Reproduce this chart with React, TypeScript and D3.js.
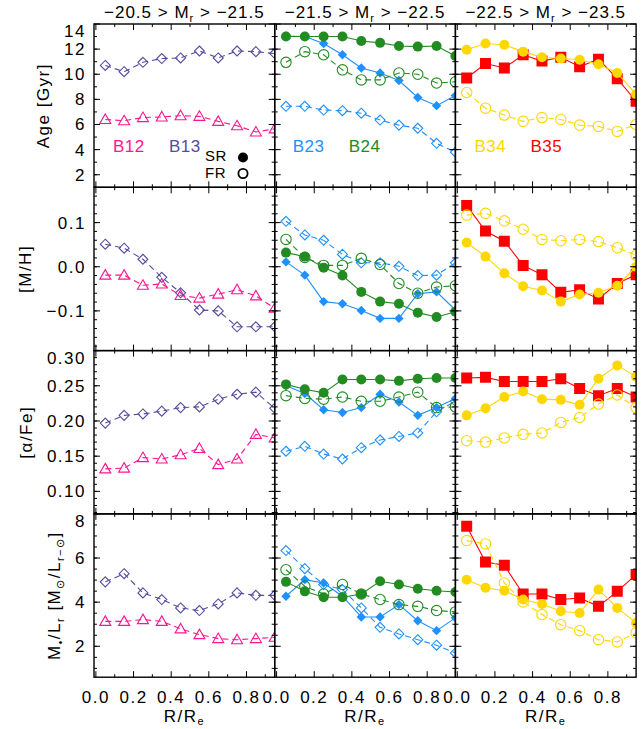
import React, { useEffect, useRef } from 'react';
import * as d3 from 'd3';

// radial bins (R/Re)
const radius = [0.05, 0.15, 0.25, 0.35, 0.45, 0.55, 0.65, 0.75, 0.85, 0.95];

// magnitude bins for the three columns
const magBins = [['−20.5', '−21.5'], ['−21.5', '−22.5'], ['−22.5', '−23.5']];

// Age [Gyr]
const ageB12 = [6.4, 6.3, 6.55, 6.6, 6.7, 6.65, 6.25, 5.9, 5.4, 5.65];
const ageB13 = [10.7, 10.2, 10.95, 11.25, 11.3, 11.85, 11.3, 11.85, 11.8, 11.65];
const ageB23SR = [13.05, 13.0, 12.45, 11.55, 10.5, 10.1, 9.5, 8.15, 7.5, 8.3];
const ageB23FR = [7.45, 7.45, 7.15, 7.1, 6.9, 6.35, 5.95, 5.7, 4.5, 3.8];
const ageB24SR = [13.0, 13.0, 13.0, 13.0, 12.65, 12.5, 12.25, 12.2, 12.25, 11.45];
const ageB24FR = [10.95, 11.8, 11.55, 10.35, 9.55, 9.55, 10.1, 10.0, 9.3, 9.4];
const ageB34SR = [11.95, 12.45, 12.35, 11.8, 11.35, 11.25, 11.15, 10.8, 10.1, 8.4];
const ageB34FR = [8.55, 7.3, 6.75, 6.25, 6.55, 6.4, 5.95, 5.85, 5.45, 6.0];
const ageB35 = [9.7, 10.85, 10.5, 11.55, 11.05, 11.35, 10.6, 11.2, 9.65, 7.85];

// [M/H]
const mhB12 = [-0.019, -0.019, -0.042, -0.039, -0.065, -0.071, -0.062, -0.052, -0.066, -0.094];
const mhB13 = [0.051, 0.042, 0.017, -0.024, -0.059, -0.098, -0.1, -0.136, -0.136, -0.136];
const mhB23SR = [0.011, -0.019, -0.079, -0.084, -0.099, -0.117, -0.117, -0.061, -0.057, -0.098];
const mhB23FR = [0.103, 0.072, 0.06, 0.028, 0.009, 0.009, 0.001, -0.02, -0.019, 0.009];
const mhB24SR = [0.032, 0.023, -0.002, -0.02, -0.057, -0.079, -0.084, -0.104, -0.114, -0.102];
const mhB24FR = [0.062, 0.021, 0.003, 0.003, 0.019, 0.005, -0.038, -0.06, -0.046, -0.043];
const mhB34SR = [0.055, 0.023, -0.015, -0.044, -0.054, -0.079, -0.063, -0.059, -0.043, 0.0];
const mhB34FR = [0.117, 0.121, 0.104, 0.085, 0.062, 0.059, 0.062, 0.057, 0.043, 0.026];
const mhB35 = [0.139, 0.081, 0.058, 0.003, -0.018, -0.058, -0.052, -0.073, -0.038, -0.018];

// [alpha/Fe]
const afeB12 = [0.132, 0.133, 0.148, 0.146, 0.152, 0.161, 0.138, 0.146, 0.181, 0.176];
const afeB13 = [0.197, 0.208, 0.21, 0.214, 0.219, 0.22, 0.231, 0.238, 0.241, 0.218];
const afeB23SR = [0.25, 0.239, 0.216, 0.212, 0.219, 0.238, 0.227, 0.208, 0.219, 0.232];
const afeB23FR = [0.157, 0.164, 0.153, 0.146, 0.162, 0.173, 0.178, 0.183, 0.213, 0.228];
const afeB24SR = [0.252, 0.245, 0.24, 0.259, 0.259, 0.259, 0.257, 0.26, 0.261, 0.261];
const afeB24FR = [0.236, 0.232, 0.231, 0.234, 0.228, 0.228, 0.234, 0.241, 0.219, 0.22];
const afeB34SR = [0.208, 0.218, 0.234, 0.242, 0.231, 0.23, 0.223, 0.26, 0.279, 0.263];
const afeB34FR = [0.172, 0.17, 0.176, 0.181, 0.183, 0.198, 0.205, 0.224, 0.237, 0.219];
const afeB35 = [0.261, 0.262, 0.256, 0.256, 0.256, 0.26, 0.246, 0.236, 0.246, 0.234];

// M*/Lr
const mlB12 = [3.13, 3.13, 3.21, 3.13, 2.79, 2.53, 2.35, 2.3, 2.35, 2.41];
const mlB13 = [4.92, 5.29, 4.42, 4.12, 3.74, 3.62, 3.92, 4.42, 4.31, 4.31];
const mlB23SR = [4.27, 5.02, 4.87, 4.27, 3.33, 3.33, 3.89, 3.16, 2.71, 3.29];
const mlB23FR = [6.34, 5.52, 4.8, 4.57, 3.74, 2.86, 2.56, 2.3, 2.05, 1.7];
const mlB24SR = [4.92, 4.49, 4.22, 4.22, 4.37, 4.95, 4.8, 4.61, 4.52, 4.46];
const mlB24FR = [5.47, 4.72, 4.37, 4.8, 4.37, 4.12, 3.89, 3.81, 3.62, 3.56];
const mlB34SR = [5.02, 4.65, 4.52, 4.12, 3.92, 3.59, 3.51, 4.57, 3.74, 3.06];
const mlB34FR = [6.79, 6.64, 4.87, 4.01, 3.44, 2.98, 2.71, 2.3, 2.2, 2.61];
const mlB35 = [7.44, 5.82, 5.67, 4.37, 4.37, 4.12, 4.19, 3.81, 4.49, 5.25];

// tick labels
const xTicks = [0, 0.2, 0.4, 0.6, 0.8];
const ageTicks = [2, 4, 6, 8, 10, 12, 14];
const mhTicks = [-0.1, 0, 0.1];
const afeTicks = [0.1, 0.15, 0.2, 0.25, 0.3];
const mlTicks = [2, 4, 6, 8];

const rows = [
  { domain: [1, 14], ticks: ageTicks, minor: [1, 14, 1], fmt: 'd' },
  { domain: [-0.19, 0.18], ticks: mhTicks, minor: [-0.18, 0.19, 0.02], fmt: '.1f' },
  { domain: [0.068, 0.3], ticks: afeTicks, minor: [0.07, 0.305, 0.01], fmt: '.2f' },
  { domain: [0.6, 8], ticks: mlTicks, minor: [1, 8.01, 0.5], fmt: 'd' },
];

const series = [
  { name: 'B12', col: 0, type: 'FR', color: '#ff1493', marker: 'triangle', values: [ageB12, mhB12, afeB12, mlB12] },
  { name: 'B13', col: 0, type: 'FR', color: '#554c9f', marker: 'diamond', values: [ageB13, mhB13, afeB13, mlB13] },
  { name: 'B23', col: 1, type: 'SR', color: '#1e90ff', marker: 'diamond', values: [ageB23SR, mhB23SR, afeB23SR, mlB23SR] },
  { name: 'B23', col: 1, type: 'FR', color: '#1e90ff', marker: 'diamond', values: [ageB23FR, mhB23FR, afeB23FR, mlB23FR] },
  { name: 'B24', col: 1, type: 'SR', color: '#228b22', marker: 'circle', values: [ageB24SR, mhB24SR, afeB24SR, mlB24SR] },
  { name: 'B24', col: 1, type: 'FR', color: '#228b22', marker: 'circle', values: [ageB24FR, mhB24FR, afeB24FR, mlB24FR] },
  { name: 'B35', col: 2, type: 'SR', color: '#ff0000', marker: 'square', values: [ageB35, mhB35, afeB35, mlB35] },
  { name: 'B34', col: 2, type: 'SR', color: '#ffd700', marker: 'circle', values: [ageB34SR, mhB34SR, afeB34SR, mlB34SR] },
  { name: 'B34', col: 2, type: 'FR', color: '#ffd700', marker: 'circle', values: [ageB34FR, mhB34FR, afeB34FR, mlB34FR] },
];

const legendNames = [['B12', 'B13'], ['B23', 'B24'], ['B34', 'B35']];

const FONT = '"Liberation Sans", Arial, Helvetica, sans-serif';

const shapePath = (marker: string, filled: boolean) => {
  if (marker === 'diamond') {
    const s = filled ? 4.7 : 5;
    return `M0,${-s}L${s},0L0,${s}L${-s},0Z`;
  }
  if (marker === 'triangle') return 'M0,-5.5L5.5,4L-5.5,4Z';
  if (marker === 'square') return 'M-5.5,-5.5H5.5V5.5H-5.5Z';
  return '';
};

const App = () => {
  const ref = useRef<SVGSVGElement>(null);

  useEffect(() => {
    if (!ref.current) return;
    const svg = d3.select(ref.current);
    svg.selectAll('*').remove();

    const left = 94;
    const top = 24;
    const pw = 180.7;
    const ph = 163.3;

    const x = d3.scaleLinear().domain([-0.01, 0.95]).range([0, pw]);
    const defs = svg.append('defs');
    defs.append('clipPath').attr('id', 'panel-clip')
      .append('rect').attr('width', pw).attr('height', ph);

    const textStyle = (sel: any, size = 17, ls = 1.5) =>
      sel.attr('font-family', FONT).attr('font-size', size).attr('letter-spacing', ls).attr('fill', '#000');

    rows.forEach((row, r) => {
      const y = d3.scaleLinear().domain(row.domain).range([ph, 0]);
      const fmt = d3.format(row.fmt);
      const minors = d3.range(row.minor[0], row.minor[1], row.minor[2]);
      const xMinors = d3.range(0.1, 0.95, 0.2);

      for (let c = 0; c < 3; c++) {
        const g = svg.append('g')
          .attr('transform', `translate(${left + c * pw},${top + r * ph})`);
        const plot = g.append('g').attr('clip-path', 'url(#panel-clip)');

        series.filter(s => s.col === c).forEach(s => {
          const vals = s.values[r];
          const pts: [number, number][] = radius.map((d, i) => [x(d), y(vals[i])]);
          const filled = s.type === 'SR';
          plot.append('path')
            .attr('d', d3.line()(pts))
            .attr('fill', 'none')
            .attr('stroke', s.color)
            .attr('stroke-width', 1.1)
            .attr('stroke-dasharray', filled ? null : '6,4');
          if (s.marker === 'circle') {
            plot.selectAll(null).data(pts).enter().append('circle')
              .attr('cx', d => d[0]).attr('cy', d => d[1])
              .attr('r', filled ? 5 : 5.2)
              .attr('fill', filled ? s.color : 'none')
              .attr('stroke', filled ? 'none' : s.color)
              .attr('stroke-width', 1.1);
          } else {
            plot.selectAll(null).data(pts).enter().append('path')
              .attr('d', shapePath(s.marker, filled))
              .attr('transform', d => `translate(${d[0]},${d[1]})`)
              .attr('fill', filled ? s.color : 'none')
              .attr('stroke', filled ? 'none' : s.color)
              .attr('stroke-width', 1.1);
          }
        });

        // ticks on all four sides, pointing inward
        const tk = g.append('g').attr('stroke', '#000').attr('stroke-width', 1);
        const yTick = (v: number, len: number) => {
          tk.append('line').attr('x1', 0).attr('x2', len).attr('y1', y(v)).attr('y2', y(v));
          tk.append('line').attr('x1', pw).attr('x2', pw - len).attr('y1', y(v)).attr('y2', y(v));
        };
        const xTick = (v: number, len: number) => {
          tk.append('line').attr('y1', 0).attr('y2', len).attr('x1', x(v)).attr('x2', x(v));
          tk.append('line').attr('y1', ph).attr('y2', ph - len).attr('x1', x(v)).attr('x2', x(v));
        };
        minors.forEach(v => yTick(v, 3));
        row.ticks.forEach(v => yTick(v, 6));
        xMinors.forEach(v => xTick(v, 3));
        xTicks.forEach(v => xTick(v, 6));

        g.append('rect').attr('width', pw).attr('height', ph)
          .attr('fill', 'none').attr('stroke', '#000').attr('stroke-width', 1.4);

        if (r === 3) {
          xTicks.forEach(v => {
            textStyle(g.append('text'))
              .attr('x', x(v)).attr('y', ph + 26)
              .attr('text-anchor', 'middle')
              .text(d3.format('.1f')(v));
          });
          const xt = textStyle(g.append('text'))
            .attr('x', pw / 2).attr('y', ph + 45).attr('text-anchor', 'middle');
          xt.append('tspan').text('R/R');
          xt.append('tspan').attr('font-size', 11).attr('dy', 3).text('e');
        }

        if (r === 0) {
          // column title
          const tt = textStyle(svg.append('text'), 17, 1)
            .attr('x', left + c * pw + pw / 2).attr('y', 18).attr('text-anchor', 'middle');
          tt.append('tspan').text(`${magBins[c][0]} > M`);
          tt.append('tspan').attr('font-size', 11).attr('dy', 4).text('r');
          tt.append('tspan').attr('dy', -4).text(` > ${magBins[c][1]}`);

          // legend names
          legendNames[c].forEach((name, k) => {
            const s = series.find(d => d.name === name);
            textStyle(g.append('text'), 17, 0.5)
              .attr('x', c === 1 ? 18 + k * 56 : 19 + k * 56).attr('y', 128)
              .attr('fill', s ? s.color : '#000')
              .text(name);
          });
          if (c === 0) {
            textStyle(g.append('text'), 15, 0.5).attr('x', 111).attr('y', 137).text('SR');
            textStyle(g.append('text'), 15, 0.5).attr('x', 111).attr('y', 154).text('FR');
            g.append('circle').attr('cx', 149).attr('cy', 133.5).attr('r', 5).attr('fill', '#000');
            g.append('circle').attr('cx', 149).attr('cy', 149.5).attr('r', 4.6)
              .attr('fill', 'none').attr('stroke', '#000').attr('stroke-width', 1.8);
          }
        }
      }

      // y tick labels and title on the left column
      const lab = svg.append('g').attr('transform', `translate(${left},${top + r * ph})`);
      row.ticks.forEach(v => {
        const py = y(v);
        textStyle(lab.append('text'))
          .attr('x', -8).attr('y', py < 3 ? py + 7 : py)
          .attr('dy', '0.35em')
          .attr('text-anchor', 'end')
          .text(fmt(v));
      });
      const bb = (lab.node() as SVGGElement).getBBox();
      const cx = left + bb.x - 21;
      const cy = top + r * ph + ph / 2;
      const yt = textStyle(svg.append('text'))
        .attr('text-anchor', 'middle')
        .attr('transform', `translate(${cx + 6},${cy}) rotate(-90)`);
      if (r === 0) yt.text('Age [Gyr]');
      if (r === 1) yt.text('[M/H]');
      if (r === 2) yt.text('[α/Fe]');
      if (r === 3) {
        yt.append('tspan').text('M');
        yt.append('tspan').attr('font-size', 10).attr('dy', 4).text('•');
        yt.append('tspan').attr('dy', -4).text('/L');
        yt.append('tspan').attr('font-size', 11).attr('dy', 4).text('r');
        yt.append('tspan').attr('dy', -4).text(' [M');
        yt.append('tspan').attr('font-size', 11).attr('dy', 4).text('⊙');
        yt.append('tspan').attr('dy', -4).text('/L');
        yt.append('tspan').attr('font-size', 11).attr('dy', 4).text('r−⊙');
        yt.append('tspan').attr('dy', -4).text(']');
      }
    });
  }, []);

  return (
    <svg
      ref={ref}
      width={643}
      height={729}
      style={{ position: 'absolute', left: 0, top: 0, background: '#fff' }}
    />
  );
};

export default App;
